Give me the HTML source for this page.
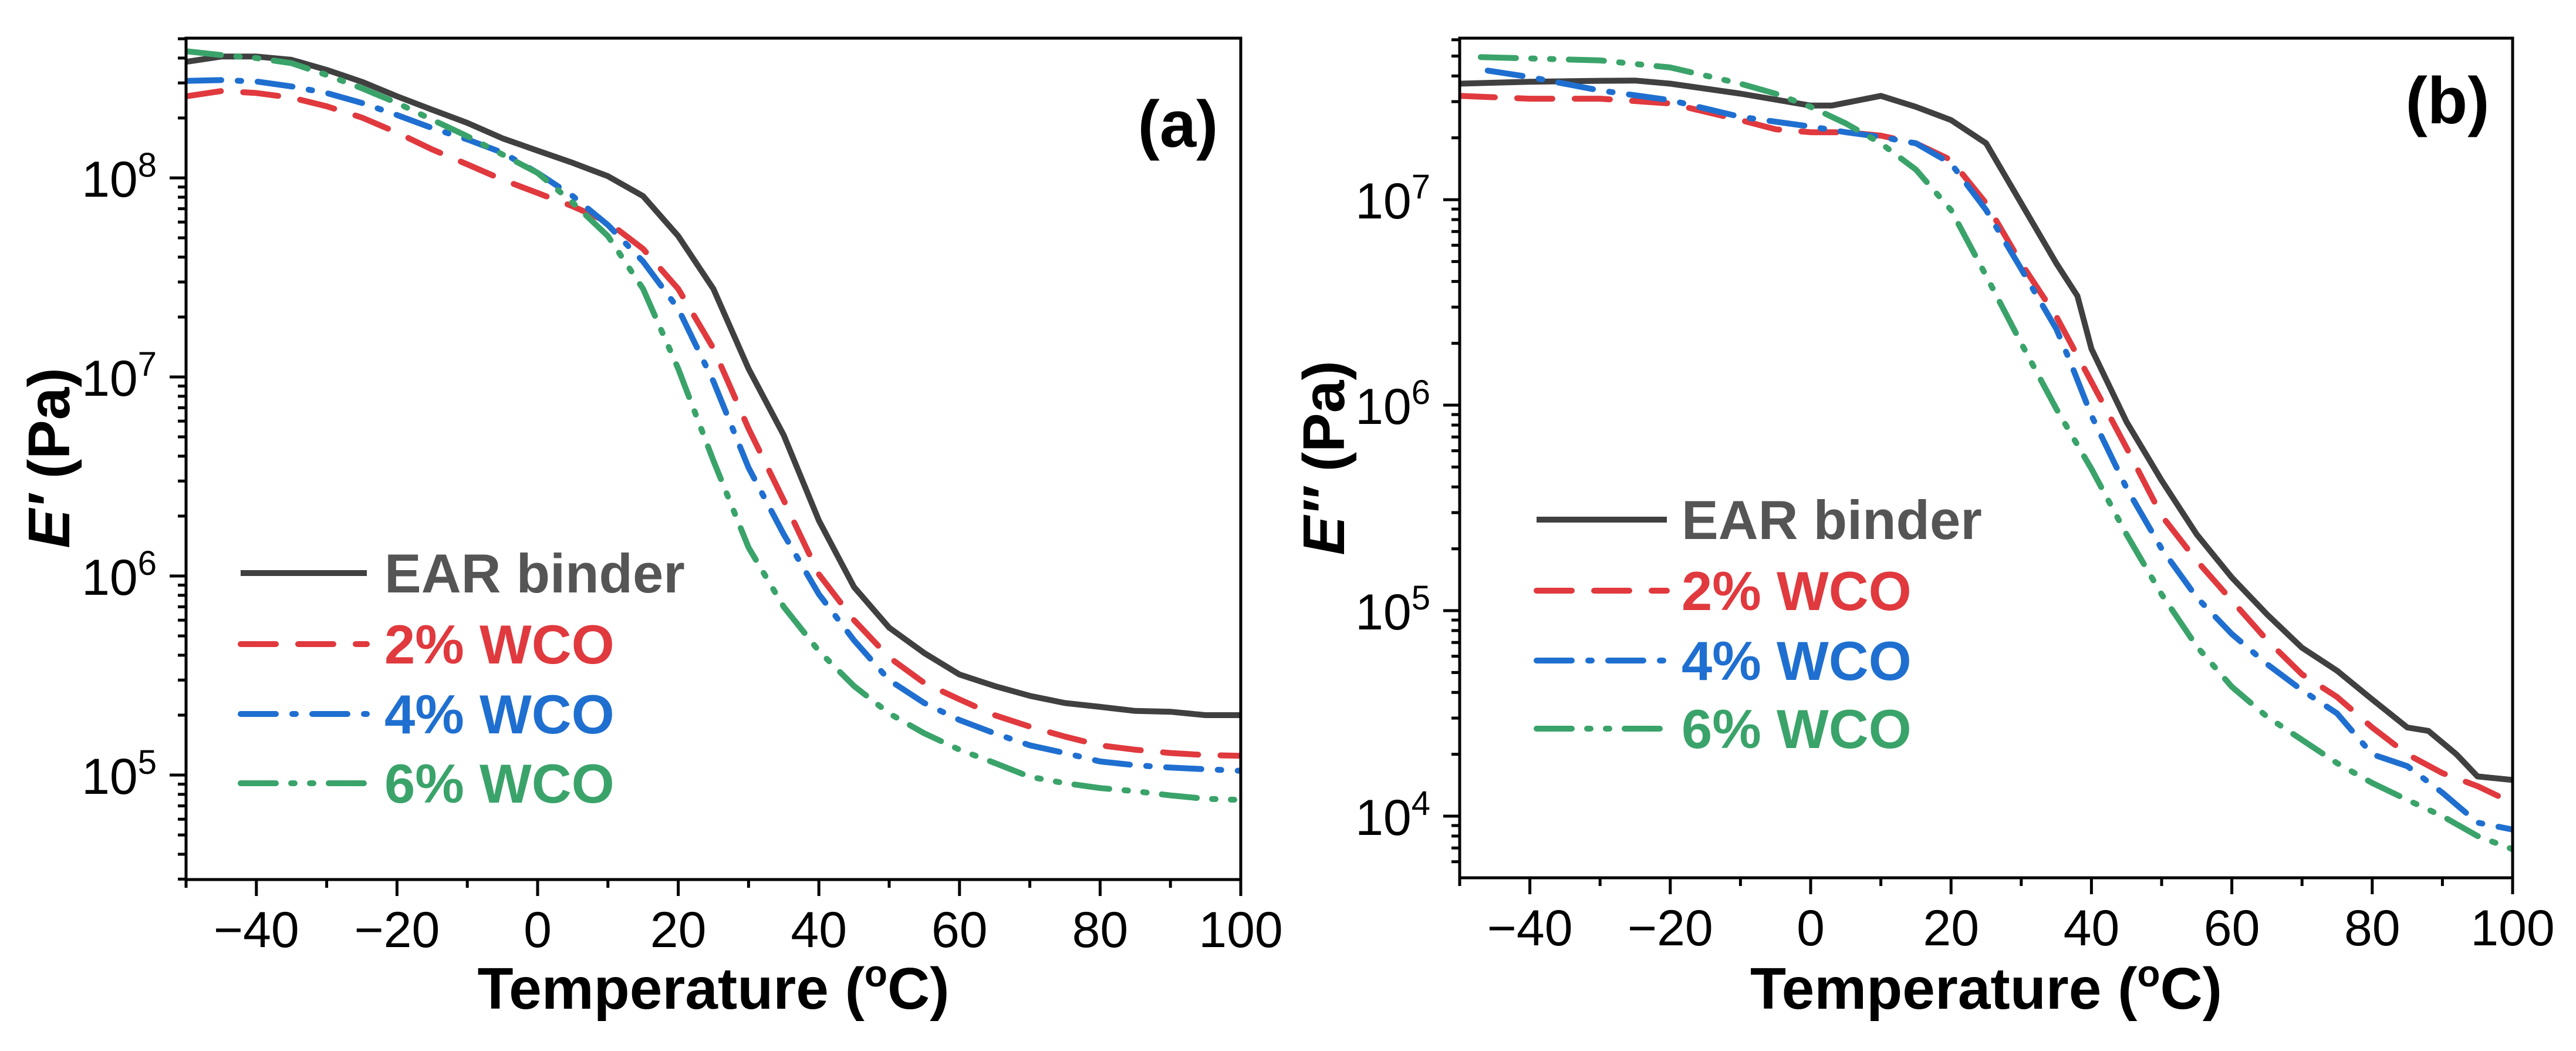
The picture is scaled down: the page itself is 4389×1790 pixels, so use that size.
<!DOCTYPE html>
<html><head><meta charset="utf-8">
<style>
html,body{margin:0;padding:0;background:#fff;}
svg{display:block;font-family:"Liberation Sans",Arial,sans-serif;}
</style></head>
<body>
<svg id="fig" width="4389" height="1790" viewBox="0 0 4389 1790" xmlns="http://www.w3.org/2000/svg"></svg>
<script>
// ---------- data ----------
const temperaturesA = [-50,-45,-40,-35,-30,-25,-20,-15,-10,-5,0,5,10,15,20,25,30,35,40,45,50,55,60,65,70,75,80,85,90,95,100];
const earA = [3.83e8,4.07e8,4.07e8,3.92e8,3.49e8,3.04e8,2.57e8,2.2e8,1.89e8,1.58e8,1.37e8,1.19e8,1.02e8,8.1e7,5.1e7,2.77e7,1.1e7,5.1e6,1.9e6,8.8e5,5.5e5,4.1e5,3.2e5,2.8e5,2.5e5,2.3e5,2.2e5,2.1e5,2.08e5,2.0e5,2.0e5];
const wco2A = [2.57e8,2.73e8,2.67e8,2.53e8,2.29e8,2.01e8,1.69e8,1.39e8,1.17e8,9.8e7,8.4e7,7.2e7,6.0e7,4.4e7,2.77e7,1.39e7,5.5e6,2.4e6,1.02e6,6.0e5,3.9e5,2.9e5,2.4e5,2.0e5,1.75e5,1.56e5,1.41e5,1.34e5,1.29e5,1.26e5,1.25e5];
const wco4A = [3.07e8,3.1e8,3.05e8,2.88e8,2.67e8,2.38e8,2.07e8,1.78e8,1.56e8,1.34e8,1.06e8,8.1e7,5.8e7,3.8e7,2.2e7,9.5e6,3.5e6,1.62e6,8.1e5,4.75e5,3.0e5,2.3e5,1.89e5,1.62e5,1.41e5,1.29e5,1.17e5,1.12e5,1.09e5,1.07e5,1.05e5];
const wco6A = [4.33e8,4.14e8,4.0e8,3.77e8,3.29e8,2.82e8,2.38e8,1.96e8,1.62e8,1.31e8,1.06e8,7.5e7,5.1e7,2.77e7,1.1e7,3.8e6,1.39e6,7.0e5,4.2e5,2.8e5,2.04e5,1.62e5,1.34e5,1.15e5,9.8e4,9.1e4,8.6e4,8.3e4,7.9e4,7.6e4,7.5e4];
const temperaturesEarB = [-50,-40,-30,-25,-20,-10,0,3,10,15,20,25,30,35,38,40,45,50,55,60,65,70,75,80,85,88,92,95,100];
const earB = [3.67e7,3.75e7,3.79e7,3.8e7,3.67e7,3.28e7,2.87e7,2.87e7,3.2e7,2.83e7,2.44e7,1.88e7,9.6e6,4.9e6,3.4e6,1.88e6,8.3e5,4.3e5,2.35e5,1.45e5,9.6e4,6.6e4,5.1e4,3.7e4,2.7e4,2.6e4,2.0e4,1.56e4,1.5e4];
const temperatures2B = [-50,-40,-30,-20,-10,-5,0,5,10,15,20,25,30,35,40,45,50,55,60,65,70,75,80,85,90,95,100];
const wco2B = [3.2e7,3.1e7,3.1e7,2.94e7,2.44e7,2.2e7,2.13e7,2.13e7,2.05e7,1.88e7,1.56e7,9.6e6,4.9e6,2.7e6,1.3e6,6.2e5,2.9e5,1.75e5,1.12e5,7.2e4,4.9e4,3.8e4,2.7e4,2.0e4,1.62e4,1.4e4,1.16e4];
const temperatures4B = [-46,-40,-30,-20,-10,0,5,10,15,20,25,30,35,37,40,45,50,55,60,65,70,75,80,85,90,95,100];
const wco4B = [4.25e7,3.95e7,3.4e7,3.05e7,2.53e7,2.27e7,2.13e7,2.02e7,1.88e7,1.5e7,8.9e6,4.6e6,2.35e6,1.62e6,8.9e5,3.95e5,2.0e5,1.16e5,7.7e4,5.5e4,4.1e4,3.16e4,2.0e4,1.75e4,1.3e4,9.3e3,8.6e3];
const temperatures6B = [-47,-40,-30,-20,-10,-5,0,5,10,15,20,25,30,35,40,45,50,55,60,65,70,75,80,85,90,95,100];
const wco6B = [4.94e7,4.87e7,4.76e7,4.4e7,3.67e7,3.28e7,2.83e7,2.35e7,1.88e7,1.4e7,8.9e6,4.26e6,2.0e6,9.6e5,4.9e5,2.35e5,1.2e5,6.7e4,4.26e4,3.05e4,2.35e4,1.81e4,1.45e4,1.2e4,1.0e4,8.0e3,6.9e3];
const xTicks = [-40,-20,0,20,40,60,80,100];
const xTickLabels = ["\u221240","\u221220","0","20","40","60","80","100"];
const yDecadesA = [5,6,7,8];
const yDecadesB = [4,5,6,7];
const seriesNames = ["EAR binder","2% WCO","4% WCO","6% WCO"];

// ---------- drawing ----------
const NS = "http://www.w3.org/2000/svg";
const svg = document.getElementById("fig");
function mk(tag, attrs, parent){
  const e = document.createElementNS(NS, tag);
  for (const k in attrs) e.setAttribute(k, attrs[k]);
  (parent||svg).appendChild(e);
  return e;
}
const colors = ["#404040","#e0393e","#1f6fd0","#3aa36a"];
const dashes = ["none","60 38","60 28 6 28","60 26 6 26 6 26"];

function panel(cfg){
  const g = mk("g", {});
  
  
  const X = t => cfg.left + (t - (-50)) / 150 * (cfg.right - cfg.left);
  const Y = v => cfg.top + (cfg.logMax - Math.log10(v)) / (cfg.logMax - cfg.logMin) * (cfg.bottom - cfg.top);
  // clip
  const cid = "clip-" + cfg.name;
  const cp = mk("clipPath", {id: cid}, g);
  mk("rect", {x: cfg.left, y: cfg.top, width: cfg.right - cfg.left, height: cfg.bottom - cfg.top}, cp);
  // series
  cfg.series.forEach((s, i) => {
    const pts = s.x.map((t, j) => X(t).toFixed(1) + "," + Y(s.y[j]).toFixed(1)).join(" ");
    const pl = mk("polyline", {points: pts, fill: "none", stroke: colors[i], "stroke-width": 10,
      "stroke-dasharray": dashes[i], "stroke-linecap": i === 0 ? "butt" : "round", "stroke-linejoin": "round", "clip-path": "url(#" + cid + ")"}, g);
    
    
  });
  // frame
  const fr = mk("rect", {x: cfg.left, y: cfg.top, width: cfg.right - cfg.left, height: cfg.bottom - cfg.top, fill: "none", stroke: "#000", "stroke-width": 5}, g);
  
  
  // x ticks
  for (let t = -50; t <= 100; t += 10) {
    const major = (t % 20 === 0);
    const tk = mk("line", {x1: X(t), x2: X(t), y1: cfg.bottom, y2: cfg.bottom + (major ? 28 : 14), stroke: "#000", "stroke-width": 5}, g);
    
    
  }
  xTicks.forEach((t, i) => {
    const tl = mk("text", {x: X(t), y: cfg.bottom + 115, "font-size": 86, "text-anchor": "middle", fill: "#000"}, g);
    tl.textContent = xTickLabels[i];
    
    
  });
  // y ticks
  for (let d = Math.floor(cfg.logMin); d <= Math.ceil(cfg.logMax); d++) {
    for (let m = 1; m <= 9; m++) {
      const lv = d + Math.log10(m);
      if (lv < cfg.logMin - 1e-6 || lv > cfg.logMax + 1e-6) continue;
      const y = Y(Math.pow(10, lv));
      const tk = mk("line", {x1: cfg.left - (m === 1 ? 28 : 14), x2: cfg.left, y1: y, y2: y, stroke: "#000", "stroke-width": 5}, g);
      
      
    }
  }
  cfg.decades.forEach(d => {
    const y = Y(Math.pow(10, d));
    const tl = mk("text", {x: cfg.left - 50, y: y + 32, "font-size": 86, "text-anchor": "end", fill: "#000"}, g);
    
    
    const a = mk("tspan", {}, tl); a.textContent = "10";
    const b = mk("tspan", {dy: -34, "font-size": 58}, tl); b.textContent = String(d);
  });
  // axis titles
  const xt = mk("text", {x: (cfg.left + cfg.right) / 2, y: 1718, "font-size": 100, "font-weight": "bold", "text-anchor": "middle", fill: "#000"}, g);
  
  
  let s1 = mk("tspan", {}, xt); s1.textContent = "Temperature (";
  let s2 = mk("tspan", {dy: -38, "font-size": 64}, xt); s2.textContent = "o";
  let s3 = mk("tspan", {dy: 38}, xt); s3.textContent = "C)";
  const yt = mk("text", {x: 0, y: 0, "font-size": 100, "font-weight": "bold", "text-anchor": "middle", fill: "#000",
    transform: "translate(" + cfg.ytx + ",780) rotate(-90)"}, g);
  
  
  let e1 = mk("tspan", {"font-style": "italic"}, yt); e1.textContent = cfg.yLabel;
  let e2 = mk("tspan", {}, yt); e2.textContent = " (Pa)";
  // panel label
  const pl = mk("text", {x: cfg.labX, y: cfg.labY, "font-size": 112, "font-weight": "bold", "text-anchor": "middle", fill: "#000"}, g);
  pl.textContent = cfg.label;
  
  
  // legend
  const lg = mk("g", {}, g);
  
  
  const legColors = ["#555555","#e0393e","#1f6fd0","#3aa36a"];
  cfg.legRows.forEach((ry, i) => {
    const en = mk("g", {}, lg);
    
    
    mk("line", {x1: cfg.legX1, x2: cfg.legX2, y1: ry, y2: ry, stroke: colors[i], "stroke-width": 10,
      "stroke-dasharray": dashes[i], "stroke-linecap": i === 0 ? "butt" : "round"}, en);
    const tx = mk("text", {x: cfg.legTX, y: ry + 33, "font-size": 94, "font-weight": "bold", fill: legColors[i]}, en);
    tx.textContent = seriesNames[i];
  });
}

panel({name: "panel-a-storage-modulus", left: 317, right: 2114, top: 65, bottom: 1498, logMin: 4.475, logMax: 8.702,
  decades: yDecadesA, yLabel: "E\u2032", ytx: 118, label: "(a)", labX: 2007, labY: 250,
  legX1: 410, legX2: 625, legTX: 655, legRows: [976, 1097, 1216, 1334],
  series: [{x: temperaturesA, y: earA}, {x: temperaturesA, y: wco2A}, {x: temperaturesA, y: wco4A}, {x: temperaturesA, y: wco6A}]});
panel({name: "panel-b-loss-modulus", left: 2487, right: 4281, top: 65, bottom: 1495, logMin: 3.7, logMax: 7.786,
  decades: yDecadesB, yLabel: "E\u2033", ytx: 2290, label: "(b)", labX: 4170, labY: 210,
  legX1: 2618, legX2: 2840, legTX: 2865, legRows: [885, 1006, 1125, 1241],
  series: [{x: temperaturesEarB, y: earB}, {x: temperatures2B, y: wco2B}, {x: temperatures4B, y: wco4B}, {x: temperatures6B, y: wco6B}]});
</script>
</body></html>
